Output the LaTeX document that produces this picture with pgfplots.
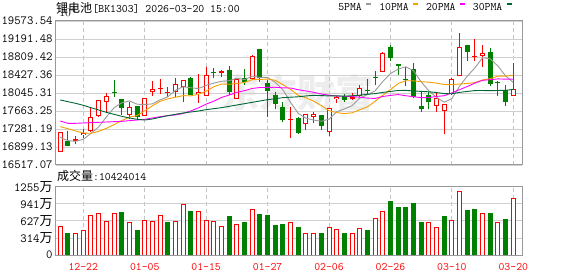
\documentclass[border=0pt]{standalone}
\usepackage{fontspec}
\usepackage{pgfplots}
\usepackage{pgfplotstable}
\pgfplotsset{compat=1.18}
\newfontfamily\cjk{Noto Sans CJK SC}
\definecolor{upred}{HTML}{FF0000}
\definecolor{dngreen}{HTML}{008000}
\definecolor{maA}{HTML}{9A9A9A}
\definecolor{maB}{HTML}{F5A000}
\definecolor{maC}{HTML}{FF00FF}
\definecolor{maD}{HTML}{006633}
\definecolor{gridc}{HTML}{CFCFCF}
\definecolor{gridv}{HTML}{C4C4C4}
\definecolor{framec}{HTML}{999999}
\newcommand\lab{\ttfamily\fontsize{11.43bp}{13bp}\selectfont}
\newcommand\ylab{\ttfamily\fontsize{12.4bp}{14bp}\selectfont}
\newcommand\wan{{\cjk\fontsize{13bp}{14bp}\selectfont 万}}

\pgfplotstableread{
i O H L C
0 16786 17210 16786 17210
2 17027 17133 16963 17062
3 17154 17281 17083 17203
4 17239 17720 17225 17543
5 17550 17895 17545 17890
6 17847 18052 17649 17975
9 17586 17861 17486 17741
11 17564 17937 17560 17932
12 18060 18300 17982 18123
13 18137 18343 18024 18152
14 18045 18180 17968 18074
15 18060 18357 17968 18229
16 18180 18320 17861 18314
18 18024 18442 17826 18067
19 17989 18604 17985 18420
21 18477 18534 18392 18505
23 17925 18340 17920 18335
25 18335 18852 18321 18831
30 17472 17741 17083 17494
32 17380 17598 17260 17593
33 17543 17635 17402 17607
35 17225 17725 17133 17720
36 17925 17973 17840 17968
38 17925 18038 17897 17953
39 17989 18215 17968 18144
42 18498 18916 18493 18887
49 17777 18038 17649 17932
50 17670 17810 17168 17805
51 18024 18355 18003 18350
52 18406 19312 18400 19015
54 18802 19192 18732 18817
55 18831 19064 18604 18887
59 17982 18689 17976 18123
}\up

\pgfplotstableread{
i O H L C
1 17034 17239 16920 16928
7 18074 18321 17968 18045
8 17911 17915 17578 17734
10 17769 17775 17486 17543
17 18364 18392 17996 18010
20 18484 18569 18357 18463
22 18534 18618 18003 18074
24 18364 18548 18215 18272
26 18979 18985 18286 18357
27 18265 18321 17543 18095
28 18003 18074 17699 17805
29 17741 17861 17437 17472
31 17522 17527 17175 17189
34 17578 17584 17260 17345
37 17982 18024 17861 17897
40 18109 18335 18003 18088
41 18392 18519 18215 18371
43 19015 19064 18732 18795
44 18661 18666 18427 18626
45 18350 18600 18194 18328
46 18548 18689 17932 17953
47 17769 18074 17649 17706
48 18003 18074 17699 17847
53 19064 19069 18732 18909
56 18923 18990 18201 18229
57 18279 18300 17982 18251
58 18109 18215 17777 17847
}\dn

\pgfplotstableread{
i a b c d
0 17104 17331 17451 17897
1 17034 17288 17402 17861
2 17020 17239 17402 17826
3 17062 17196 17409 17784
4 17189 17189 17416 17734
5 17325 17232 17423 17685
6 17535 17295 17430 17635
7 17731 17373 17437 17593
8 17837 17458 17444 17550
9 17877 17533 17458 17515
10 17808 17566 17472 17487
11 17799 17667 17486 17472
12 17815 17773 17515 17494
13 17898 17868 17543 17529
14 17965 17921 17564 17564
15 18102 17955 17580 17593
16 18178 17989 17610 17621
17 18156 17985 17665 17642
18 18139 18019 17730 17663
19 18208 18086 17810 17692
20 18255 18178 17872 17713
21 18293 18236 17951 17734
22 18306 18231 18002 17762
23 18360 18249 18059 17791
24 18330 18269 18095 17819
25 18403 18329 18142 17847
26 18374 18333 18161 17876
27 18378 18342 18164 17904
28 18272 18316 18167 17925
29 18112 18221 18154 17947
30 17844 18124 18151 17956
31 17611 17992 18114 17965
32 17511 17944 18088 17983
33 17471 17871 18060 17996
34 17445 17779 18024 17990
35 17491 17668 17998 17984
36 17646 17629 17981 17984
37 17707 17609 17975 17979
38 17777 17624 17970 17986
39 17936 17691 17956 17999
40 18010 17750 17937 18018
41 18091 17869 17930 18032
42 18289 17998 17971 18058
43 18457 18117 17994 18079
44 18553 18245 18012 18098
45 18602 18306 17987 18101
46 18518 18304 17967 18089
47 18282 18285 17947 18079
48 18092 18275 17949 18071
49 17953 18253 17972 18055
50 17849 18225 17988 18033
51 17928 18223 18046 18028
52 18190 18236 18117 18059
53 18402 18247 18182 18078
54 18579 18266 18256 18097
55 18795 18322 18314 18098
56 18771 18350 18327 18094
57 18618 18404 18345 18099
58 18406 18404 18339 18101
59 18268 18423 18338 18123
}\ma

\pgfplotstableread{
i v
0 532
2 404
3 459
4 734
5 771
6 624
7 771
9 588
11 643
12 624
13 734
15 624
16 936
18 808
19 643
20 624
21 532
23 569
25 845
30 588
32 386
33 404
35 514
36 477
38 404
39 496
41 679
42 808
48 606
49 514
51 643
52 1175
55 771
57 588
59 1042
}\vup

\pgfplotstableread{
i v
1 386
8 777
10 459
14 606
17 808
22 716
24 606
26 753
27 734
28 551
29 569
31 514
34 386
37 386
40 441
43 991
44 881
45 881
46 955
47 606
50 716
53 826
54 845
56 771
58 661
}\vdn

\pgfplotsset{
  kstyle/.style={
    scale only axis, width=466.5bp, anchor=south west,
    xmin=-0.58, xmax=60.17,
    xtick={3,11,19,27,35,43,51,59},
    xmajorgrids, ymajorgrids,
    major x grid style={draw=gridv, dash pattern=on 4bp off 3bp, line width=0.8bp},
    major y grid style={draw=gridc, line width=0.8bp},
    axis line style={draw=framec, line width=1bp},
    major tick length=0pt,
    yticklabel style={font=\ylab, anchor=east, inner sep=0pt, xshift=-3bp},
  },
  wick/.style={draw=none, mark=none, forget plot,
    error bars/.cd, y dir=plus, y explicit, error mark=none,
    error bar style={draw=#1, line width=1bp, solid}},
  body/.style 2 args={draw=none, mark=none, forget plot,
    error bars/.cd, y dir=plus, y explicit, error mark=none,
    error bar style={draw=#1, line width=#2, solid}},
}

\begin{document}
\begin{tikzpicture}
\path[use as bounding box] (0,0) rectangle (578bp,276bp);
\node[text=black!7, inner sep=0pt] at (297bp,183.5bp) {\cjk\bfseries\fontsize{38bp}{40bp}\selectfont 东方财富};
\node[anchor=base west, inner sep=0pt] at (55.8bp,263.7bp) {\cjk\fontsize{12bp}{13bp}\selectfont 锂电池};
\node[anchor=base west, inner sep=0pt] at (92.3bp,263.7bp) {\lab[BK1303] 2026-03-20 15:00};
\node[anchor=base west, inner sep=0pt] at (57bp,95.3bp) {{\cjk\fontsize{12bp}{13bp}\selectfont 成交量}\lab:10424014};

\begin{axis}[kstyle,
  at={(55.8bp,111bp)}, height=144bp,
  ymin=16517.07, ymax=19573.54,
  xticklabels={},
  ytick={16517.07,16899.13,17281.19,17663.25,18045.31,18427.36,18809.42,19191.48,19573.54},
  yticklabels={16517.07,16899.13,17281.19,17663.25,18045.31,18427.36,18809.42,19191.48,19573.54},
  legend plot pos=right, legend columns=4,
  legend image code/.code={\draw[line width=2bp] (0bp,3.5bp) -- (5bp,3.5bp);},
  legend style={at={(0.6056,1.0604)}, anchor=south west, draw=none, fill=none,
    inner sep=0pt, outer sep=0pt, nodes={inner sep=0pt}, column sep=0pt, font=\lab,
    /tikz/every odd column/.append style={column sep=3.2bp},
    /tikz/every even column/.append style={column sep=7.2bp}},
]
% up candles
\addplot [wick=upred] table [x=i, y=L, y error plus expr=\thisrow{H}-\thisrow{L}] {\up};
\addplot [body={upred}{5bp}] table [x=i, y=O, y error plus expr={max(\thisrow{C}-\thisrow{O},21.2)}] {\up};
\addplot [body={white}{3bp}] table [x=i, y expr=\thisrow{O}+21.2, y error plus expr={max(\thisrow{C}-\thisrow{O}-42.4,0)}] {\up};
% down candles
\addplot [wick=dngreen] table [x=i, y=L, y error plus expr=\thisrow{H}-\thisrow{L}] {\dn};
\addplot [body={dngreen}{5bp}] table [x=i, y=C, y error plus expr={max(\thisrow{O}-\thisrow{C},21.2)}] {\dn};
% moving averages
\addplot [color=maA, line width=0.9bp, mark=none] table [x=i, y=a] {\ma};
\addlegendentry{5PMA}
\addplot [color=maB, line width=0.9bp, mark=none] table [x=i, y=b] {\ma};
\addlegendentry{10PMA}
\addplot [color=maC, line width=0.9bp, mark=none] table [x=i, y=c] {\ma};
\addlegendentry{20PMA}
\addplot [color=maD, line width=0.9bp, mark=none] table [x=i, y=d] {\ma};
\addlegendentry{30PMA}
\end{axis}

\begin{axis}[kstyle,
  at={(55.8bp,21bp)}, height=68.3bp,
  ymin=0, ymax=1255,
  xticklabels={12-22,01-05,01-15,01-27,02-06,02-26,03-10,03-20},
  xticklabel style={font=\lab, text=upred, anchor=base, yshift=-15bp, inner sep=0pt},
  ytick={0,313.75,627.5,941.25,1255},
  yticklabels={0,314\wan,627\wan,941\wan,1255\wan},
]
\addplot [ybar, bar width=4bp, bar shift=0pt, draw=upred, fill=white, line width=1bp] table [x=i, y=v] {\vup};
\addplot [ybar, bar width=4bp, bar shift=0pt, draw=dngreen, fill=dngreen, line width=1bp] table [x=i, y=v] {\vdn};
\end{axis}
\end{tikzpicture}
\end{document}
